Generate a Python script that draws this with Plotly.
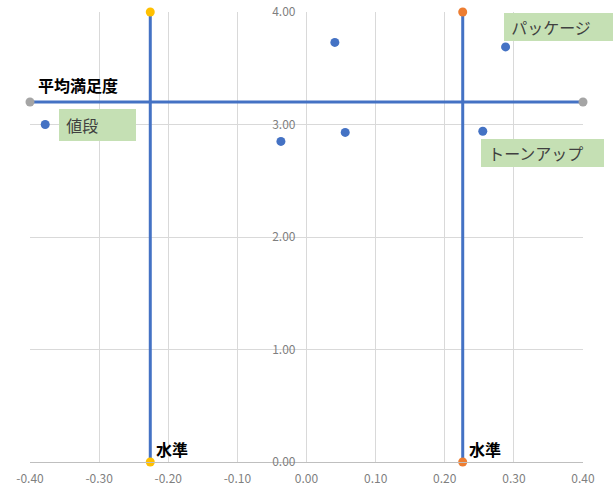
import plotly.graph_objects as go

# ---- data ----
items = ["値段", "", "", "", "トーンアップ", "パッケージ"]
importance = [-0.378, -0.037, 0.041, 0.056, 0.255, 0.288]
satisfaction = [3.00, 2.85, 3.73, 2.93, 2.94, 3.69]

avg_satisfaction = 3.2
levels = [-0.226, 0.226]
x_range = [-0.40, 0.40]
y_range = [0.0, 4.0]
x_ticks = [-0.4, -0.3, -0.2, -0.1, 0.0, 0.1, 0.2, 0.3, 0.4]
x_tick_labels = ["-0.40", "-0.30", "-0.20", "-0.10", "0.00", "0.10", "0.20", "0.30", "0.40"]
y_ticks = [0, 1, 2, 3, 4]
y_tick_labels = ["0.00", "1.00", "2.00", "3.00", "4.00"]

FONT = "Noto Sans CJK JP"
BLUE = "#4472C4"
level_colors = ["#FFC000", "#ED7D31"]

fig = go.Figure()

# average satisfaction line
fig.add_trace(go.Scatter(
    x=x_range, y=[avg_satisfaction, avg_satisfaction], mode="lines+markers",
    line=dict(color=BLUE, width=3),
    marker=dict(color="#A5A5A5", size=9),
    cliponaxis=False, showlegend=False, hoverinfo="skip"))

# level lines
for lv, c in zip(levels, level_colors):
    fig.add_trace(go.Scatter(
        x=[lv, lv], y=y_range, mode="lines+markers",
        line=dict(color=BLUE, width=3),
        marker=dict(color=c, size=9),
        cliponaxis=False, showlegend=False, hoverinfo="skip"))

# data points
fig.add_trace(go.Scatter(
    x=importance, y=satisfaction, mode="markers",
    marker=dict(color=BLUE, size=9),
    cliponaxis=False, showlegend=False))

annotations = []
# item labels (green boxes)
box_style = {
    "値段": dict(xshift=14, yshift=0, width=77, height=32),
    "パッケージ": dict(xshift=-2, yshift=20, width=109, height=28),
    "トーンアップ": dict(xshift=-2, yshift=-22, width=123, height=28),
}
for name, xv, yv in zip(items, importance, satisfaction):
    if not name:
        continue
    st = box_style[name]
    annotations.append(dict(
        x=xv, y=yv, xref="x", yref="y", text="&nbsp;&nbsp;" + name, showarrow=False,
        xanchor="left", yanchor="middle", xshift=st["xshift"], yshift=st["yshift"],
        width=st["width"], height=st["height"], align="left",
        bgcolor="#C5E0B4", borderpad=0, borderwidth=0,
        font=dict(family=FONT, size=16, color="#404040")))

annotations.append(dict(
    x=x_range[0], y=avg_satisfaction, xref="x", yref="y", text="<b>平均満足度</b>",
    showarrow=False, xanchor="left", yanchor="middle", xshift=6, yshift=17,
    font=dict(family=FONT, size=16, color="#000000")))
for lv in levels:
    annotations.append(dict(
        x=lv, y=y_range[0], xref="x", yref="y", text="<b>水準</b>",
        showarrow=False, xanchor="left", yanchor="middle", xshift=4, yshift=13,
        font=dict(family=FONT, size=16, color="#000000")))

fig.update_layout(
    width=613, height=488,
    margin=dict(l=30, r=30, t=12, b=26),
    paper_bgcolor="white", plot_bgcolor="white",
    font=dict(family=FONT),
    annotations=annotations,
    xaxis=dict(
        range=x_range, tickvals=x_ticks, ticktext=x_tick_labels,
        showgrid=True, gridcolor="#D9D9D9", gridwidth=1, zeroline=False,
        showline=True, linecolor="#BFBFBF", linewidth=1, automargin=False,
        ticks="", tickfont=dict(family=FONT, size=12, color="#7F7F7F"),
        ticklabelstandoff=6),
    yaxis=dict(
        range=y_range, tickvals=y_ticks, ticktext=y_tick_labels,
        showgrid=True, gridcolor="#D9D9D9", gridwidth=1, zeroline=False,
        showline=False, anchor="free", position=0.5, automargin=False,
        ticks="", tickfont=dict(family=FONT, size=12, color="#7F7F7F"),
        ticklabelstandoff=11),
)

fig.write_html("out.html")
